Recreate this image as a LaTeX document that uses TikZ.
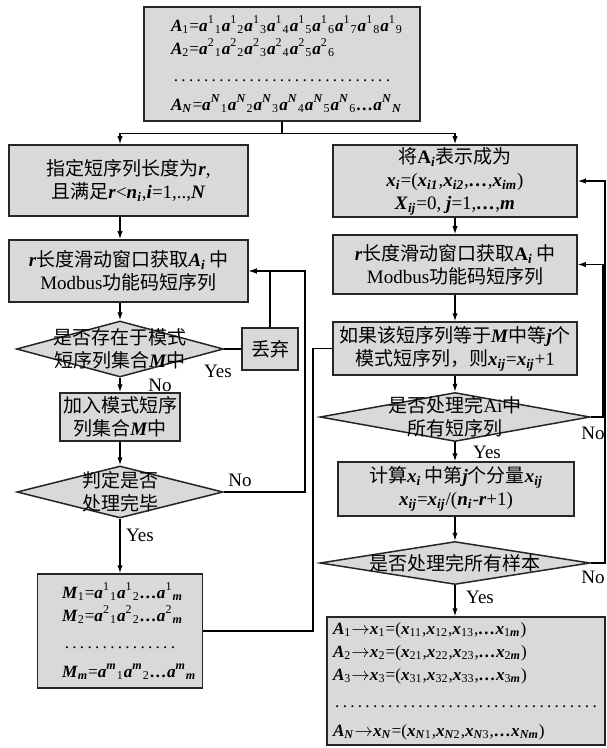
\documentclass[tikz,border=0pt]{standalone}
\usepackage{fontspec}
\setmainfont{Liberation Serif}
\newfontfamily\zhfont{Noto Sans CJK SC}
\usetikzlibrary{shapes.geometric,arrows.meta}
\newcommand\zh[1]{{\zhfont #1}}
\newcommand\bi[1]{\textbf{\textit{#1}}}
\newcommand\ai[2]{\bi{a}\textsuperscript{#1}\textsubscript{#2}} % a^i_j
\newcommand\xs[1]{\bi{x}\textsubscript{#1}}
\newcommand\pointilles{\makebox[\linewidth]{\dotfill}}
\tikzset{
  boite/.style={draw=black!85, line width=.75pt, fill=black!15, inner sep=1pt, align=center},
  formules/.style={boite, align=left, font=\fontsize{8.6}{11.5}\selectfont},
  losange/.style={diamond, draw=black!85, line width=.75pt, fill=black!15, inner sep=0pt},
  txt/.style={inner sep=0pt, align=center},
  fleche/.style={-{Latex[length=4pt,width=2.6pt]}, line width=.6pt},
  lien/.style={line width=.6pt},
  rep/.style={inner sep=0pt}
}
\begin{document}
\begin{tikzpicture}[x=.5pt, y=-.5pt, font=\fontsize{9.5}{11.5}\selectfont]
  \useasboundingbox (0,0) rectangle (606,748);
  % colonne de gauche
  \node[formules, minimum width=138pt, minimum height=57pt, text width=111pt] (top) at (282,64)
    {\bi{A}\textsubscript{1}=\ai11\ai12\ai13\ai14\ai15\ai16\ai17\ai18\ai19\\
     \bi{A}\textsubscript{2}=\ai21\ai22\ai23\ai24\ai25\ai26\\[2pt]
     \pointilles\\[3pt]
     \bi{A}\textsubscript{\bi{N}}=\ai{\bi{N}}1\ai{\bi{N}}2\ai{\bi{N}}3\ai{\bi{N}}4\ai{\bi{N}}5\ai{\bi{N}}6\bi{\ldots}\ai{\bi{N}}{\bi{N}}};
  \node[boite, minimum width=119.5pt, minimum height=35.5pt] (l1) at (128.5,180.5)
    {\zh{指定短序列长度为}\bi{r},\\\zh{且满足}\bi{r}<\bi{n}\textsubscript{\bi{i}},\bi{i}=1,..,\bi{N}};
  \node[boite, minimum width=119.5pt, minimum height=31pt] (l2) at (128.5,271)
    {\bi{r}\zh{长度滑动窗口获取}\bi{A}\textsubscript{\bi{i}}\,\zh{中}\\Modbus\zh{功能码短序列}};
  \node[losange, minimum width=103.5pt, minimum height=28pt] (d1) at (120,349) {};
  \node[txt] (d1t) at (d1) {\zh{是否存在于模式}\\\zh{短序列集合}\bi{M}\zh{中}};
  \node[boite, minimum width=28pt, minimum height=21pt] (rejet) at (270,349) {\zh{丢弃}};
  \node[boite, minimum width=60pt, minimum height=24pt] (l3) at (120,417)
    {\zh{加入模式短序}\\\zh{列集合}\bi{M}\zh{中}};
  \node[losange, minimum width=103pt, minimum height=26pt] (d2) at (120,492) {};
  \node[txt] (d2t) at (d2) {\zh{判定是否}\\\zh{处理完毕}};
  \node[formules, minimum width=82.5pt, minimum height=57pt, text width=58pt] (mods) at (120,631)
    {\bi{M}\textsubscript{1}=\ai11\ai12\bi{\ldots}\ai1{\bi{m}}\\
     \bi{M}\textsubscript{2}=\ai21\ai22\bi{\ldots}\ai2{\bi{m}}\\[2pt]
     \pointilles\\[3pt]
     \bi{M}\textsubscript{\bi{m}}=\ai{\bi{m}}1\ai{\bi{m}}2\bi{\ldots}\ai{\bi{m}}{\bi{m}}};
  % colonne de droite
  \node[boite, minimum width=122pt, minimum height=36pt] (r1) at (455,181)
    {\zh{将}\textbf{A}\textsubscript{\bi{i}}\zh{表示成为}\\
     \xs{\bi{i}}=(\xs{\bi{i1}},\xs{\bi{i2}},\bi{\ldots},\xs{\bi{im}})\\
     \bi{X}\textsubscript{\bi{ij}}=0, \bi{j}=1,\bi{\ldots},\bi{m}};
  \node[boite, minimum width=122pt, minimum height=29.5pt] (r2) at (455,264.5)
    {\bi{r}\zh{长度滑动窗口获取}\textbf{A}\textsubscript{\bi{i}}\,\zh{中}\\Modbus\zh{功能码短序列}};
  \node[boite, minimum width=122pt, minimum height=26.5pt] (r3) at (455,348.5)
    {\zh{如果该短序列等于}\bi{M}\zh{中等}\bi{j}\zh{个}\\\zh{模式短序列，则}\xs{\bi{ij}}=\xs{\bi{ij}}+1};
  \node[losange, minimum width=135pt, minimum height=24.5pt] (d3) at (455,417) {};
  \node[txt] (d3t) at (d3) {\zh{是否处理完}Ai\zh{中}\\\zh{所有短序列}};
  \node[boite, minimum width=118pt, minimum height=27pt] (r4) at (456,489)
    {\zh{计算}\xs{\bi{i}}\,\zh{中第}\bi{j}\zh{个分量}\xs{\bi{ij}}\\
     \xs{\bi{ij}}=\xs{\bi{ij}}/(\bi{n}\textsubscript{\bi{i}}-\bi{r}+1)};
  \node[losange, minimum width=135pt, minimum height=21.5pt] (d4) at (455,563) {};
  \node[txt] (d4t) at (d4) {\zh{是否处理完所有样本}};
  \node[formules, minimum width=139pt, minimum height=64pt, text width=133pt] (vecs) at (466,681)
    {\bi{A}\textsubscript{1}$\to$\xs{1}=(\xs{11},\xs{12},\xs{13},\bi{\ldots}\xs{1\bi{m}})\\
     \bi{A}\textsubscript{2}$\to$\xs{2}=(\xs{21},\xs{22},\xs{23},\bi{\ldots}\xs{2\bi{m}})\\
     \bi{A}\textsubscript{3}$\to$\xs{3}=(\xs{31},\xs{32},\xs{33},\bi{\ldots}\xs{3\bi{m}})\\[2pt]
     \pointilles\\[3pt]
     \bi{A}\textsubscript{\bi{N}}$\to$\xs{\bi{N}}=(\xs{\bi{N}1},\xs{\bi{N}2},\xs{\bi{N}3},\bi{\ldots}\xs{\bi{Nm}})};
  % reponses
  \node[rep] (oui1) at (218,371) {Yes};
  \node[rep] (non1) at (160,385) {No};
  \node[rep] (non2) at (240,480) {No};
  \node[rep] (oui2) at (140,535) {Yes};
  \node[rep] (non3) at (593,433) {No};
  \node[rep] (oui3) at (487,452) {Yes};
  \node[rep] (non4) at (593,577) {No};
  \node[rep] (oui4) at (480,597) {Yes};
  \coordinate (bouclea) at (305,0);
  \coordinate (boucleb) at (313,0);
  \coordinate (bouclec) at (603,0);
  \coordinate (boucled) at (605,0);
  % liaisons
  \draw[lien] (top.south) -- ++(0,12) coordinate (split);
  \draw[fleche] (split) -| (d1 |- l1.north);
  \draw[fleche] (split) -| (r1.north);
  \draw[fleche] (d1 |- l1.south) -- (d1 |- l2.north);
  \draw[fleche] (d1 |- l2.south) -- (d1.north);
  \draw[lien] (d1.east) -- (rejet.west);
  \draw[fleche] (rejet.north) |- (l2.east);
  \draw[fleche] (d1.south) -- (l3.north);
  \draw[fleche] (l3.south) -- (d2.north);
  \draw[fleche] (d2.east) -| (bouclea |- l2.east) -- (l2.east);
  \draw[fleche] (d2.south) -- (mods.north);
  \draw[lien] (mods.east) -| (boucleb |- r3.west) -- (r3.west);
  \draw[fleche] (r1.south) -- (r2.north);
  \draw[fleche] (r2.south) -- (r3.north);
  \draw[fleche] (r3.south) -- (d3.north);
  \draw[fleche] (d3.east) -| (bouclec |- r2.east) -- (r2.east);
  \draw[fleche] (d3.south) -- (d3.south |- r4.north);
  \draw[fleche] (d3.south |- r4.south) -- (d4.north);
  \draw[fleche] (d4.east) -| (boucled |- r1.east) -- (r1.east);
  \draw[fleche] (d4.south) -- (d4.south |- vecs.north);
\end{tikzpicture}
\end{document}
